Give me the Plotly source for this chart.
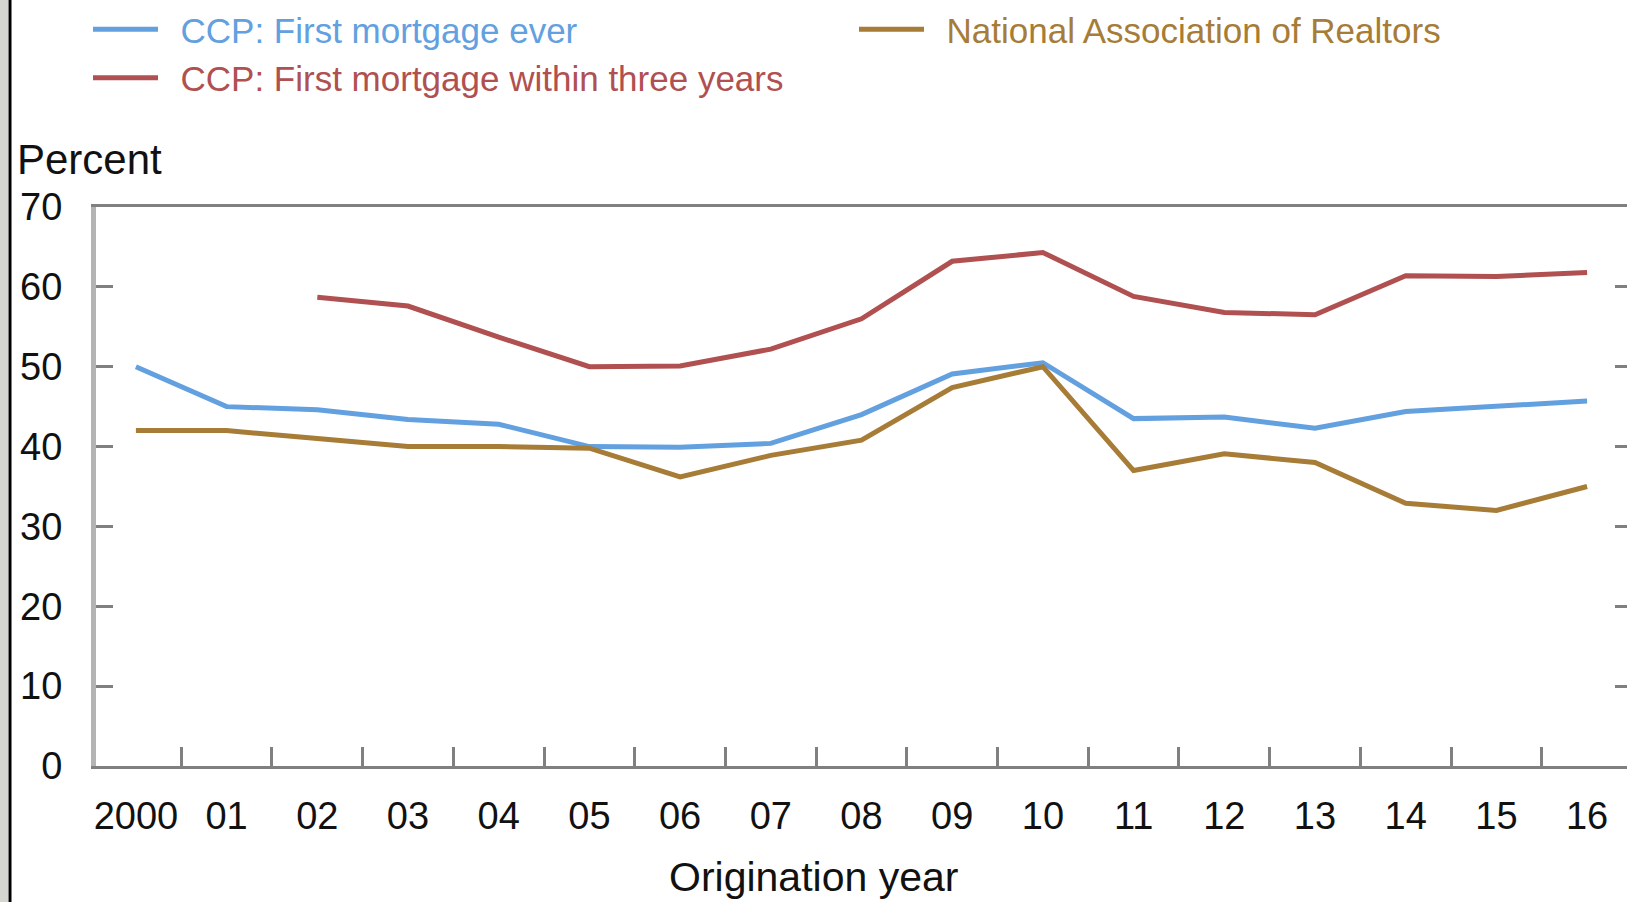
import plotly.graph_objects as go

years = list(range(2000, 2017))
tick_labels = ["2000", "01", "02", "03", "04", "05", "06", "07", "08",
               "09", "10", "11", "12", "13", "14", "15", "16"]

ccp_ever = [50, 45, 44.6, 43.4, 42.8, 40, 39.9, 40.4, 44, 49.1, 50.5,
            43.5, 43.7, 42.3, 44.4, 45, 45.7]
ccp_three = [None, None, 58.7, 57.6, 53.7, 50, 50.1, 52.2, 56, 63.2, 64.3,
             58.8, 56.8, 56.5, 61.4, 61.3, 61.8]
nar = [42, 42, 41, 40, 40, 39.8, 36.2, 38.9, 40.8, 47.4, 50,
       37, 39.1, 38, 32.9, 32, 35]

BLUE = "#62a0e0"
RED = "#b05050"
GOLD = "#a67c37"
AXIS = "#808080"
FONT = "Liberation Sans, Arial, sans-serif"

W, H = 1627, 902
L, R, T, B = 96, 0, 207, 136
pw, ph = W - L - R, H - T - B


def px(xp):
    return (xp - L) / pw


def py(yp):
    return (H - B - yp) / ph


x = list(range(len(years)))
GAP = "\u2002"

fig = go.Figure()
fig.add_trace(go.Scatter(
    x=x, y=ccp_ever, mode="lines", line=dict(color=BLUE, width=5),
    name='%s<span style="color:%s">CCP: First mortgage ever</span>' % (GAP, BLUE),
    legend="legend", legendrank=1))
fig.add_trace(go.Scatter(
    x=x, y=ccp_three, mode="lines", line=dict(color=RED, width=5),
    name='%s<span style="color:%s">CCP: First mortgage within three years</span>' % (GAP, RED),
    legend="legend", legendrank=2))
fig.add_trace(go.Scatter(
    x=x, y=nar, mode="lines", line=dict(color=GOLD, width=5),
    name='%s<span style="color:%s">National Association of Realtors</span>' % (GAP, GOLD),
    legend="legend2"))
# empty trace so the right-hand tick axis is drawn
fig.add_trace(go.Scatter(x=[], y=[], yaxis="y2", showlegend=False,
                         hoverinfo="skip"))

fig.update_layout(
    width=W, height=H,
    margin=dict(l=L, r=R, t=T, b=B, pad=0),
    paper_bgcolor="white", plot_bgcolor="white",
    font=dict(family=FONT, color="#111111"),
    xaxis=dict(
        range=[-0.44, 16.44], tickmode="array", tickvals=x, ticktext=tick_labels,
        ticks="", showgrid=False, zeroline=False,
        showline=True, linecolor=AXIS, linewidth=3, mirror=True,
        tickfont=dict(size=38, color="#111111"), ticklabelstandoff=14,
        minor=dict(tick0=0.5, dtick=1, ticks="inside", ticklen=19,
                   tickwidth=3, tickcolor=AXIS, showgrid=False),
    ),
    yaxis=dict(
        range=[0, 70], tickmode="array", tickvals=list(range(0, 80, 10)),
        ticks="inside", ticklen=17, tickwidth=3, tickcolor=AXIS,
        showgrid=False, zeroline=False,
        showline=True, linecolor="#b4b4b4", linewidth=5,
        tickfont=dict(size=38, color="#111111"), ticklabelstandoff=21,
    ),
    yaxis2=dict(
        range=[0, 70], overlaying="y", side="right", anchor="x",
        tickmode="array", tickvals=list(range(0, 80, 10)),
        ticks="inside", ticklen=12, tickwidth=3, tickcolor=AXIS,
        showticklabels=False, showgrid=False, zeroline=False, showline=False,
    ),
    legend=dict(
        x=px(88), y=1.0 + 207 / ph, xanchor="left", yanchor="top",
        orientation="v", font=dict(size=35, family=FONT),
        bgcolor="rgba(0,0,0,0)", itemwidth=65, tracegroupgap=0,
    ),
    legend2=dict(
        x=px(854), y=1.0 + 207 / ph, xanchor="left", yanchor="top",
        orientation="v", font=dict(size=35, family=FONT),
        bgcolor="rgba(0,0,0,0)", itemwidth=65,
    ),
    annotations=[
        dict(text="Percent", xref="paper", yref="paper", x=px(15), y=py(159),
             xanchor="left", yanchor="middle", showarrow=False,
             font=dict(size=42, color="#111111", family=FONT)),
        dict(text="Origination year", xref="paper", yref="paper",
             x=px(813), y=py(877), xanchor="center", yanchor="middle",
             showarrow=False, font=dict(size=41, color="#111111", family=FONT)),
    ],
    shapes=[
        dict(type="rect", xref="paper", yref="paper", x0=px(0), x1=px(8),
             y0=py(H), y1=py(0), fillcolor="#d4d4d0", line=dict(width=0),
             layer="above"),
        dict(type="line", xref="paper", yref="paper", x0=px(10), x1=px(10),
             y0=py(H), y1=py(0), line=dict(color="black", width=3),
             layer="above"),
    ],
    showlegend=True,
)

fig.write_html("out.html",
               config={"displayModeBar": False},
               post_script="document.body.style.margin='0px';"
                           "document.body.style.overflow='hidden';")
